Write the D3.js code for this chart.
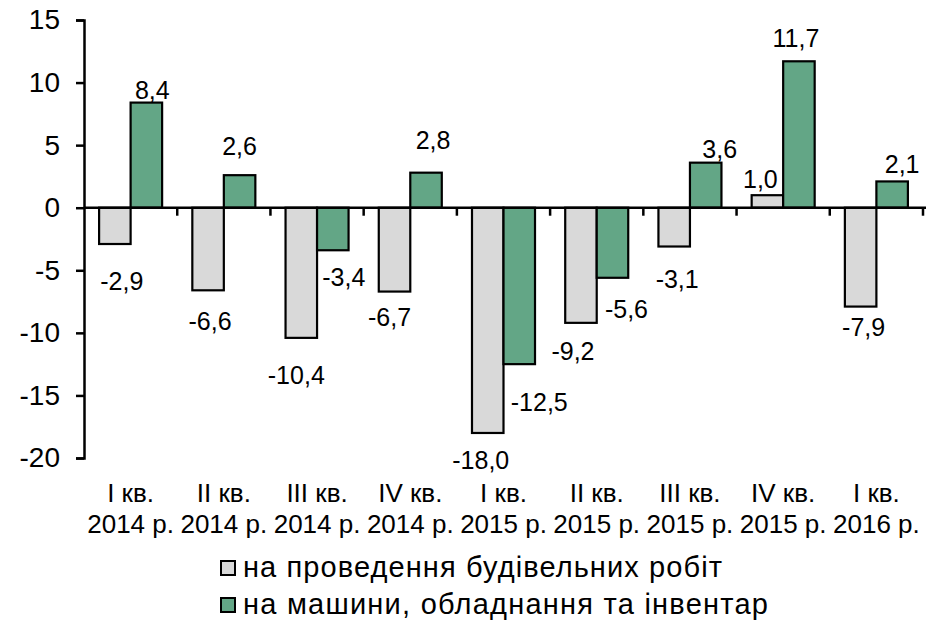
<!DOCTYPE html>
<html lang="uk">
<head>
    <meta charset="UTF-8">
    <title>Інвестиції</title>
    <script src="https://cdn.jsdelivr.net/npm/d3@7"></script>
    <style>
        body { margin: 0; background: #fff; }
        text { font-family: "Liberation Sans", Arial, sans-serif; fill: #000; }
        .tick-label { font-size: 28px; }
        .cat-label { font-size: 26px; }
        .val-label { font-size: 25px; }
        .legend-text { font-size: 29px; }
    </style>
</head>
<body>
    <svg width="927" height="621" id="chart"></svg>
    <script>
        // data
        const quarters = ["I кв.", "II кв.", "III кв.", "IV кв.", "I кв.", "II кв.", "III кв.", "IV кв.", "I кв."];
        const years = ["2014 р.", "2014 р.", "2014 р.", "2014 р.", "2015 р.", "2015 р.", "2015 р.", "2015 р.", "2016 р."];
        const building = [-2.9, -6.6, -10.4, -6.7, -18.0, -9.2, -3.1, 1.0, -7.9];
        const machines = [8.4, 2.6, -3.4, 2.8, -12.5, -5.6, 3.6, 11.7, 2.1];
        const yTicks = [-20, -15, -10, -5, 0, 5, 10, 15];
        const seriesNames = ["на проведення будівельних робіт", "на машини, обладнання та інвентар"];

        const colors = ["#d9d9d9", "#63a686"];

        // label nudges [dx, distance from bar end] (labels were hand-placed in original)
        const labelNudge = [
            [[7, 37], [2, 31], [-5, 37], [-5, 26], [-7, 27], [-8, 28], [3, 33], [-7, 16], [3, 21]],
            [[6, 12], [0, 29], [11, 27], [7, 32], [20, 38], [14, 31], [14, 13], [-3, 23], [10, 17]]
        ];

        const svg = d3.select("#chart");
        const mLeft = 84, mRight = 923, mTop = 20, mBottom = 458;

        const cats = quarters.map((q, i) => i);
        const x = d3.scaleBand().domain(cats).range([mLeft, mRight]).padding(0);
        const y = d3.scaleLinear().domain([-20, 15]).range([mBottom, mTop]);

        const bw = x.bandwidth();
        const barW = bw * 0.338;
        const off = (bw - 2 * barW) / 2;

        const loc = d3.formatLocale({decimal: ",", thousands: " ", grouping: [3], currency: ["", ""], minus: "-"});
        const fmt = loc.format(".1f");
        const fmtTick = loc.format("d");

        // y axis
        const yAxis = d3.axisLeft(y).tickValues(yTicks).tickSize(8).tickPadding(16).tickFormat(fmtTick);
        const yG = svg.append("g").attr("transform", `translate(${mLeft},0)`).call(yAxis);
        yG.select(".domain").attr("stroke", "#000").attr("stroke-width", 2.5);
        yG.selectAll(".tick line").attr("stroke", "#000").attr("stroke-width", 2.5);
        yG.selectAll(".tick text").attr("class", "tick-label").attr("font-family", null).attr("font-size", null);
        yG.attr("font-family", null).attr("font-size", null);

        // bars
        const series = [building, machines];
        series.forEach((vals, s) => {
            svg.append("g").selectAll("rect")
                .data(vals)
                .enter().append("rect")
                .attr("x", (d, i) => x(i) + off + s * barW)
                .attr("y", d => y(Math.max(0, d)))
                .attr("width", barW)
                .attr("height", d => Math.abs(y(d) - y(0)))
                .attr("fill", colors[s])
                .attr("stroke", "#000")
                .attr("stroke-width", 2.2);
        });

        // x axis line at zero with ticks between categories
        svg.append("line")
            .attr("x1", mLeft).attr("x2", mRight + 3)
            .attr("y1", y(0)).attr("y2", y(0))
            .attr("stroke", "#000").attr("stroke-width", 2.5);
        const bounds = cats.slice(1).map(i => x(i)).concat([mRight]);
        svg.append("g").selectAll("line")
            .data(bounds)
            .enter().append("line")
            .attr("x1", d => d).attr("x2", d => d)
            .attr("y1", y(0)).attr("y2", y(0) + 8)
            .attr("stroke", "#000").attr("stroke-width", 2.5);

        // value labels
        series.forEach((vals, s) => {
            svg.append("g").selectAll("text")
                .data(vals)
                .enter().append("text")
                .attr("class", "val-label")
                .attr("text-anchor", "middle")
                .attr("x", (d, i) => x(i) + off + s * barW + barW / 2 + labelNudge[s][i][0])
                .attr("y", (d, i) => y(d) + (d < 0 ? 1 : -1) * labelNudge[s][i][1])
                .attr("dy", "0.35em")
                .text(d => fmt(d));
        });

        // category labels
        const catG = svg.append("g").selectAll("text")
            .data(cats)
            .enter().append("text")
            .attr("class", "cat-label")
            .attr("text-anchor", "middle")
            .attr("x", i => x(i) + bw / 2);
        catG.append("tspan").attr("x", i => x(i) + bw / 2).attr("y", 502).text(i => quarters[i]);
        catG.append("tspan").attr("x", i => x(i) + bw / 2).attr("y", 533).text(i => years[i]);

        // legend
        const legendBase = [577, 614];
        const legendLen = [479, 525];
        const legend = svg.selectAll(".legend")
            .data(seriesNames)
            .enter().append("g")
            .attr("class", "legend");
        legend.append("rect")
            .attr("x", 221)
            .attr("y", (d, i) => legendBase[i] - 16)
            .attr("width", 14)
            .attr("height", 14)
            .attr("fill", (d, i) => colors[i])
            .attr("stroke", "#000")
            .attr("stroke-width", 2);
        legend.append("text")
            .attr("class", "legend-text")
            .attr("x", 243)
            .attr("y", (d, i) => legendBase[i])
            .attr("textLength", (d, i) => legendLen[i])
            .attr("lengthAdjust", "spacing")
            .text(d => d);
    </script>
</body>
</html>
